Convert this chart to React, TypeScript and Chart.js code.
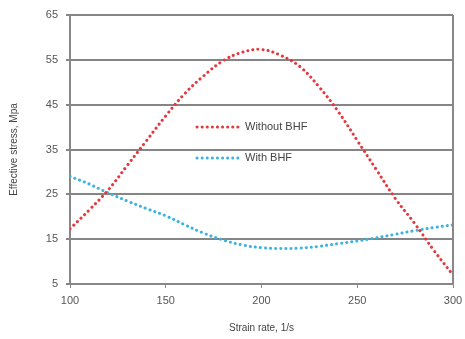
import React, { useEffect, useRef } from "react";
import { Chart, registerables } from "chart.js";

Chart.register(...registerables);

const strainRates = [100, 110, 120, 130, 140, 150, 160, 170, 180, 190, 200, 210, 220, 230, 240, 250, 260, 270, 280, 290, 300];
const withoutBHF = [17.3, 21.5, 26, 31.5, 37, 42.5, 47.5, 51.5, 54.8, 56.7, 57.3, 56, 53.5, 49, 43.5, 37, 30.5, 24, 18.5, 12.5, 7];
const withBHF = [29, 27.3, 25.3, 23.5, 21.8, 20.2, 18.2, 16.3, 14.8, 13.7, 13.1, 12.9, 13, 13.4, 14, 14.6, 15.3, 16.1, 16.9, 17.6, 18.2];
const seriesNames = ["Without BHF", "With BHF"];
const xTitle = "Strain rate, 1/s";
const yTitle = "Effective stress, Mpa";

const RED = "#e4383f";
const BLUE = "#3bb3df";
const FONT = "'Liberation Sans', Arial, sans-serif";

const legendPlugin = {
  id: "innerLegend",
  afterDraw(chart: any) {
    const ctx = chart.ctx;
    const items = chart.data.datasets;
    const x0 = 197;
    const x1 = 238;
    const ys = [127, 158];
    ctx.save();
    items.forEach((ds: any, i: number) => {
      const y = ys[i];
      ctx.beginPath();
      ctx.strokeStyle = ds.borderColor;
      ctx.lineWidth = 3;
      ctx.lineCap = "round";
      ctx.setLineDash([0.1, 5]);
      ctx.moveTo(x0, y);
      ctx.lineTo(x1, y);
      ctx.stroke();
      ctx.setLineDash([]);
      ctx.fillStyle = "#444";
      ctx.font = "11px " + FONT;
      ctx.textBaseline = "middle";
      ctx.textAlign = "left";
      ctx.fillText(ds.label, 245, y);
    });
    ctx.restore();
  },
};

export default function App() {
  const ref = useRef<HTMLCanvasElement>(null);
  useEffect(() => {
    const canvas = ref.current!;
    const chart = new Chart(canvas, {
      type: "line",
      data: {
        datasets: [
          {
            label: seriesNames[0],
            data: strainRates.map((x, i) => ({ x, y: withoutBHF[i] })),
            borderColor: RED,
            backgroundColor: RED,
            borderWidth: 3,
            borderDash: [0.1, 5],
            borderCapStyle: "round",
            pointRadius: 0,
            tension: 0.4,
            fill: false,
          },
          {
            label: seriesNames[1],
            data: strainRates.map((x, i) => ({ x, y: withBHF[i] })),
            borderColor: BLUE,
            backgroundColor: BLUE,
            borderWidth: 3,
            borderDash: [0.1, 5],
            borderCapStyle: "round",
            pointRadius: 0,
            tension: 0.4,
            fill: false,
          },
        ],
      },
      options: {
        animation: false,
        responsive: false,
        maintainAspectRatio: false,
        layout: { padding: { top: 15, right: 12, left: 8, bottom: 5 } },
        plugins: { legend: { display: false }, tooltip: { enabled: false } },
        scales: {
          x: {
            type: "linear",
            min: 100,
            max: 300,
            ticks: {
              stepSize: 50,
              color: "#555",
              font: { family: FONT, size: 11 },
              padding: 6,
            },
            grid: { display: true, drawOnChartArea: false, drawTicks: true, tickLength: 4, color: "#888", lineWidth: 1 },
            border: { display: true, color: "#888", width: 2 },
            title: {
              display: true,
              text: xTitle,
              color: "#444",
              font: { family: FONT, size: 10 },
              padding: { top: 6, bottom: 0 },
            },
            afterFit: (s: any) => { s.height = 50; s.paddingLeft = 0; s.paddingRight = 0; },
          },
          y: {
            min: 5,
            max: 65,
            ticks: {
              stepSize: 10,
              color: "#555",
              font: { family: FONT, size: 11 },
              padding: 8,
            },
            grid: { color: "#858585", lineWidth: 2, drawTicks: true, tickLength: 4 },
            border: { display: true, color: "#888", width: 2 },
            title: {
              display: true,
              text: yTitle,
              color: "#444",
              font: { family: FONT, size: 10 },
              padding: { top: 0, bottom: 4 },
            },
            afterFit: (s: any) => { s.width = 62; s.paddingTop = 0; s.paddingBottom = 0; },
          },
        },
      },
      plugins: [
        legendPlugin,
        {
          id: "rightBorder",
          afterDraw(chart: any) {
            const { ctx, chartArea } = chart;
            ctx.save();
            ctx.strokeStyle = "#888";
            ctx.lineWidth = 2;
            ctx.beginPath();
            ctx.moveTo(chartArea.right, chartArea.top);
            ctx.lineTo(chartArea.right, chartArea.bottom);
            ctx.stroke();
            ctx.restore();
          },
        },
      ],
    } as any);
    return () => chart.destroy();
  }, []);
  return (
    <div style={{ position: "fixed", left: 0, top: 0, width: 465, height: 339, background: "#fff" }}>
      <canvas ref={ref} width={465} height={339} style={{ width: 465, height: 339 }} />
    </div>
  );
}
